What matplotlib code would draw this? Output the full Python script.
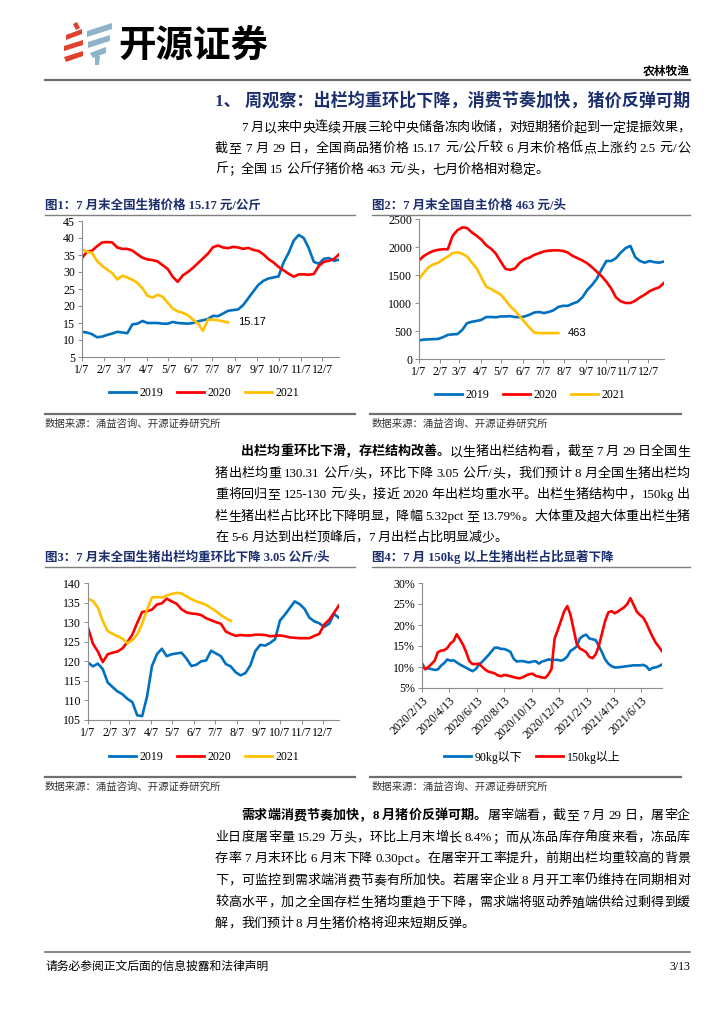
import numpy as np
import pandas as pd
import matplotlib
matplotlib.use('Agg')
import matplotlib.pyplot as plt
from matplotlib.patches import Polygon
from matplotlib.lines import Line2D

SERIF = ['Liberation Serif', 'Noto Sans CJK SC']
CJK = ['Noto Sans CJK SC', 'DejaVu Sans']
plt.rcParams['font.family'] = SERIF

# ------------------------------------------------------------------ data
month_tick_labels = ['1/7', '2/7', '3/7', '4/7', '5/7', '6/7', '7/7', '8/7', '9/7', '10/7', '11/7', '12/7']
year_labels = ['2019', '2020', '2021']

price_2019 = [12.4, 12.2, 11.7, 10.8, 11.0, 11.5, 11.9, 12.4, 12.2, 12.0, 14.6, 14.8, 15.6, 15.0, 15.0, 15.0,
              14.8, 14.8, 15.3, 15.0, 14.9, 14.8, 15.0, 15.5, 15.8, 16.2, 17.1, 17.0, 17.8, 18.6, 18.8, 19.0,
              20.3, 22.3, 24.3, 26.2, 27.4, 28.1, 28.4, 28.7, 32.8, 35.6, 39.2, 40.9, 40.0, 37.0, 33.0, 32.4,
              33.9, 34.1, 33.3, 33.6]
price_2020 = [34.1, 36.0, 36.3, 37.6, 38.7, 38.8, 38.7, 37.2, 36.8, 36.8, 36.3, 35.2, 34.2, 33.7, 33.5, 33.1,
              32.0, 30.9, 28.6, 27.1, 29.0, 30.0, 31.2, 32.6, 34.0, 35.4, 37.3, 37.8, 37.2, 37.0, 37.4, 37.2,
              36.8, 37.1, 36.5, 36.2, 35.2, 33.8, 32.8, 31.5, 30.5, 29.5, 28.6, 29.3, 29.3, 29.2, 29.4, 31.8,
              33.0, 33.3, 33.8, 35.2]
price_2021 = [36.6, 36.0, 35.6, 33.2, 31.8, 30.7, 29.7, 27.8, 28.9, 28.4, 27.7, 26.8, 25.2, 23.0, 22.5, 23.3,
              22.7, 21.0, 19.3, 18.4, 18.0, 17.3, 16.0, 14.9, 12.7, 16.0, 16.0, 15.8, 15.5, 15.17]

piglet_2019 = [334, 346, 350, 355, 358, 390, 430, 440, 445, 520, 640, 665, 680, 700, 750, 750, 745, 760, 760,
               765, 750, 745, 760, 790, 830, 840, 820, 840, 870, 930, 950, 950, 990, 1020, 1100, 1230, 1320,
               1430, 1600, 1750, 1750, 1800, 1900, 1980, 2020, 1820, 1750, 1720, 1750, 1730, 1720, 1740]
piglet_2020 = [1760, 1840, 1890, 1930, 1950, 1960, 1960, 2200, 2300, 2350, 2340, 2260, 2200, 2130, 2030, 1970,
               1880, 1740, 1610, 1590, 1620, 1720, 1780, 1810, 1860, 1890, 1920, 1935, 1940, 1940, 1930, 1900,
               1840, 1800, 1760, 1710, 1640, 1560, 1480, 1380, 1260, 1100, 1030, 1000, 1000, 1040, 1100, 1150,
               1210, 1250, 1280, 1360]
piglet_2021 = [1430, 1540, 1640, 1690, 1720, 1780, 1830, 1890, 1905, 1880, 1830, 1720, 1620, 1450, 1290, 1250,
               1200, 1150, 1050, 940, 860, 760, 660, 560, 470, 463, 463, 463, 463, 463]

weight_2019 = [119.7, 118.7, 119.4, 118.0, 114.6, 113.4, 112.3, 111.6, 110.4, 109.6, 106.2, 106.0, 111.0, 118.8,
               121.8, 123.2, 121.3, 121.8, 122.0, 122.2, 120.7, 118.8, 119.1, 120.0, 120.2, 122.7, 122.0, 121.3,
               119.3, 118.7, 117.2, 116.4, 117.0, 119.0, 122.6, 124.2, 124.0, 124.7, 125.6, 130.4, 131.9, 133.6,
               135.3, 134.6, 133.4, 131.1, 130.2, 129.7, 128.8, 129.6, 132.1, 131.1]
weight_2020 = [128.6, 124.5, 122.5, 119.8, 121.8, 122.2, 122.5, 123.3, 124.9, 126.8, 129.8, 132.6, 132.8, 133.2,
               134.5, 134.8, 136.0, 135.3, 134.7, 133.3, 132.5, 132.2, 132.1, 131.8, 131.0, 130.5, 130.0, 129.6,
               127.6, 127.0, 126.5, 126.7, 126.6, 126.6, 126.8, 126.8, 126.7, 126.4, 126.5, 126.6, 126.4, 126.1,
               126.0, 125.9, 125.9, 125.9, 126.5, 127.0, 129.4, 130.6, 132.4, 134.3]
weight_2021 = [136.0, 135.4, 133.7, 130.3, 127.7, 127.0, 126.4, 125.8, 124.6, 125.4, 126.8, 129.6, 133.2, 136.3,
               136.4, 136.3, 136.8, 137.2, 137.5, 137.3, 136.6, 135.9, 135.3, 134.9, 134.4, 133.6, 132.8, 131.8,
               131.0, 130.3]

share_start = '2020-02-13'
share_tick_labels = ['2020/2/13', '2020/4/13', '2020/6/13', '2020/8/13', '2020/10/13', '2020/12/13',
                     '2021/2/13', '2021/4/13', '2021/6/13']
share_series_labels = ['90kg以下', '150kg以上']
share_below90 = [10.9, 9.5, 9.7, 9.5, 9.3, 9.4, 10.3, 10.9, 11.8, 11.5, 11.6, 11.1, 10.6, 10.2, 9.8, 9.4, 9.0,
                 9.5, 10.5, 11.2, 12.0, 12.8, 13.7, 14.6, 14.6, 14.3, 14.3, 14.0, 13.6, 12.0, 11.3, 11.4, 11.4,
                 11.2, 11.1, 11.3, 11.4, 10.8, 11.3, 11.5, 11.8, 11.7, 11.7, 11.7, 11.5, 11.8, 12.5, 13.8, 14.3,
                 14.9, 16.8, 17.4, 17.7, 16.8, 16.6, 16.4, 15.0, 13.5, 11.8, 10.8, 10.2, 9.9, 9.9, 10.0, 10.1,
                 10.2, 10.3, 10.4, 10.4, 10.4, 10.5, 10.2, 9.3, 9.8, 9.9, 10.2, 10.6]
share_above150 = [10.4, 9.5, 10.0, 10.7, 11.5, 13.5, 13.9, 14.0, 14.5, 15.6, 16.2, 17.8, 16.6, 15.3, 13.5, 11.4,
                  10.7, 10.7, 10.8, 10.1, 9.4, 8.9, 8.7, 8.5, 8.0, 7.8, 8.1, 8.0, 7.8, 7.6, 7.4, 7.3, 7.6, 8.0,
                  8.3, 8.4, 7.9, 7.7, 7.5, 7.4, 8.2, 9.5, 16.8, 18.8, 21.0, 23.2, 24.5, 22.5, 19.0, 15.5, 14.4,
                  14.0, 13.5, 12.4, 12.1, 13.0, 15.0, 18.0, 21.0, 23.0, 23.3, 22.8, 23.2, 23.7, 24.2, 25.0, 26.4,
                  24.8, 23.2, 22.4, 21.8, 20.5, 18.8, 17.2, 15.8, 14.8, 13.8]

# ------------------------------------------------------------------ text
para1 = [
    [("7 月以来中央连续开展三轮中央储备冻肉收储，对短期猪价起到一定提振效果，", 'normal')],
    [("截至 7 月 29 日，全国商品猪价格 15.17 元/公斤较 6 月末价格低点上涨约 2.5 元/公", 'normal')],
    [("斤；全国 15 公斤仔猪价格 463 元/头，七月价格相对稳定。", 'normal')],
]
para2 = [
    [("出栏均重环比下滑，存栏结构改善。", 'bold'), ("以生猪出栏结构看，截至 7 月 29 日全国生", 'normal')],
    [("猪出栏均重 130.31 公斤/头，环比下降 3.05 公斤/头，我们预计 8 月全国生猪出栏均", 'normal')],
    [("重将回归至 125-130 元/头，接近 2020 年出栏均重水平。出栏生猪结构中，150kg 出", 'normal')],
    [("栏生猪出栏占比环比下降明显，降幅 5.32pct 至 13.79%。大体重及超大体重出栏生猪", 'normal')],
    [("在 5-6 月达到出栏顶峰后，7 月出栏占比明显减少。", 'normal')],
]
para3 = [
    [("需求端消费节奏加快，8 月猪价反弹可期。", 'bold'), ("屠宰端看，截至 7 月 29 日，屠宰企", 'normal')],
    [("业日度屠宰量 15.29 万头，环比上月末增长 8.4%；而从冻品库存角度来看，冻品库", 'normal')],
    [("存率 7 月末环比 6 月末下降 0.30pct。在屠宰开工率提升，前期出栏均重较高的背景", 'normal')],
    [("下，可监控到需求端消费节奏有所加快。若屠宰企业 8 月开工率仍维持在同期相对", 'normal')],
    [("较高水平，加之全国存栏生猪均重趋于下降，需求端将驱动养殖端供给过剩得到缓", 'normal')],
    [("解，我们预计 8 月生猪价格将迎来短期反弹。", 'normal')],
]

# ------------------------------------------------------------------ figure
W, H = 724, 1024
fig = plt.figure(figsize=(W / 100, H / 100), dpi=100)
fig.patch.set_facecolor('white')
renderer = fig.canvas.get_renderer()

BLUE, RED, YEL = '#0070C0', '#FF0000', '#FFC000'
NAVY = '#1b2f6e'
GRAY = '#7f7f7f'


def fx(x):
    return x / W


def fy(y):
    return 1 - y / H


def T(x, y, s, size=9.4, color='black', weight='normal', ha='left', va='center', family=None):
    return fig.text(fx(x), fy(y), s, fontsize=size, color=color, fontweight=weight, ha=ha, va=va,
                    family=family or SERIF)


def hline(x0, x1, y, lw=1.0, color=GRAY):
    fig.add_artist(Line2D([fx(x0), fx(x1)], [fy(y), fy(y)], transform=fig.transFigure, lw=lw, color=color))


_wcache = {}


def measure(s, wt, size):
    key = (s, wt, size)
    if key not in _wcache:
        t = fig.text(0, 0, s, fontsize=size, fontweight=wt, family=SERIF)
        _wcache[key] = t.get_window_extent(renderer=renderer).width
        t.remove()
    return _wcache[key]


def tokenize(s):
    toks, buf = [], ''
    for ch in s:
        if ord(ch) < 128 and ch != ' ':
            buf += ch
        else:
            if buf:
                toks.append(buf)
                buf = ''
            toks.append(ch)
    if buf:
        toks.append(buf)
    return toks


def text_line(segs, x0, y, x1=None, size=9.4, space=3.0):
    toks = []
    for text, wt in segs:
        for t in tokenize(text):
            toks.append((t, wt))
    widths = [space if t == ' ' else measure(t, wt, size) for t, wt in toks]
    gap = 0.0
    if x1 is not None and len(toks) > 1:
        gap = (x1 - x0 - sum(widths)) / (len(toks) - 1)
    x = x0
    for (t, wt), w in zip(toks, widths):
        if t != ' ':
            T(x, y, t, size=size, weight=wt)
        x += w + gap


def paragraph(lines, ys, indent_x=241, left=215, right=690):
    for i, (segs, y) in enumerate(zip(lines, ys)):
        x0 = indent_x if i == 0 else left
        last = (i == len(lines) - 1)
        text_line(segs, x0, y, None if last else right)


# ---------------- header
red_polys = [[(73, 24), (77, 22), (80, 28), (76, 30)],
             [(66, 35), (82, 29), (82, 34), (66, 40)],
             [(64, 46), (83, 40), (83, 45), (64, 51)],
             [(64, 57), (83, 51), (83, 56), (66, 62)]]
blue_polys = [[(87, 31), (112, 23), (112, 29), (87, 37)],
              [(88, 42), (110, 35), (110, 41), (88, 48)],
              [(90, 53), (106, 47), (106, 53), (93, 58)],
              [(95, 56), (100, 56), (99, 65), (95, 65)]]
for p in red_polys:
    fig.add_artist(Polygon([(fx(a), fy(b)) for a, b in p], closed=True, transform=fig.transFigure,
                           facecolor='#e0412e', edgecolor='none'))
for p in blue_polys:
    fig.add_artist(Polygon([(fx(a), fy(b)) for a, b in p], closed=True, transform=fig.transFigure,
                           facecolor='#8fb3c8', edgecolor='none'))
T(118, 45, '开源证券', size=27, weight='heavy', family=CJK)
T(690, 71, '农林牧渔', size=8.5, weight='bold', ha='right', family=CJK)
hline(45, 690, 80, lw=1.6, color='#6f6f6f')
T(690, 101, '1、 周观察：出栏均重环比下降，消费节奏加快，猪价反弹可期', size=12.3, weight='bold',
  color=NAVY, ha='right')

paragraph(para1, [128, 149, 170])

# ---------------- figure titles / separators / sources
T(45, 206, '图1：7 月末全国生猪价格 15.17 元/公斤', size=9, weight='bold', color=NAVY)
T(372, 206, '图2：7 月末全国自主价格 463 元/头', size=9, weight='bold', color=NAVY)
hline(45, 355, 215, lw=1.0)
hline(372, 690, 215, lw=1.0)
hline(45, 355, 414, lw=1.6, color='#6f6f6f')
hline(370, 681, 414, lw=1.6, color='#6f6f6f')
T(45, 424, '数据来源：涌益咨询、开源证券研究所', size=7.5, color='#333333')
T(372, 424, '数据来源：涌益咨询、开源证券研究所', size=7.5, color='#333333')

paragraph(para2, [452, 474, 495, 517, 538])

T(45, 557, '图3：7 月末全国生猪出栏均重环比下降 3.05 公斤/头', size=9, weight='bold', color=NAVY)
T(372, 557, '图4：7 月 150kg 以上生猪出栏占比显著下降', size=9, weight='bold', color=NAVY)
hline(45, 355, 567, lw=1.0)
hline(372, 690, 567, lw=1.0)
hline(45, 355, 777, lw=1.6, color='#6f6f6f')
hline(370, 681, 777, lw=1.6, color='#6f6f6f')
T(45, 787, '数据来源：涌益咨询、开源证券研究所', size=7.5, color='#333333')
T(372, 787, '数据来源：涌益咨询、开源证券研究所', size=7.5, color='#333333')

paragraph(para3, [816, 838, 859, 881, 903, 924])

hline(45, 690, 952, lw=1.2, color='#6f6f6f')
T(45, 967, '请务必参阅正文后面的信息披露和法律声明', size=8.5)
T(690, 967, '3/13', size=8.5, ha='right')


# ---------------- charts
def ax_px(l, t, r, b):
    return fig.add_axes([l / W, 1 - b / H, (r - l) / W, (b - t) / H])


def style(ax, size=8.6):
    for s in ['top', 'right']:
        ax.spines[s].set_visible(False)
    for s in ['left', 'bottom']:
        ax.spines[s].set_color('#8c8c8c')
        ax.spines[s].set_linewidth(0.8)
    ax.tick_params(axis='both', direction='out', length=3, width=0.7, color='#8c8c8c',
                   labelsize=size, pad=2)
    ax.set_facecolor('none')
    for lab in ax.get_xticklabels() + ax.get_yticklabels():
        lab.set_family(SERIF)


def legend(ax, labels, colors, cx, cy):
    handles = [Line2D([], [], color=c, lw=2.0) for c in colors]
    ax.legend(handles, labels, loc='center', bbox_to_anchor=(fx(cx), fy(cy)), bbox_transform=fig.transFigure,
              ncol=len(labels), frameon=False, prop={'family': SERIF, 'size': 8.6}, handlelength=2.3,
              handletextpad=0.3, columnspacing=1.1)


base = pd.Timestamp('2019-01-07')
month_pos = [(pd.Timestamp(2019, m, 7) - base).days for m in range(1, 13)]


def year_chart(rect, series, ylim, yticks, note=None):
    ax = ax_px(*rect)
    for vals, c in zip(series, [BLUE, RED, YEL]):
        x = np.arange(len(vals)) * 7
        ax.plot(x, vals, color=c, lw=1.9, solid_joinstyle='round')
    ax.set_xlim(0, 51 * 7)
    ax.set_ylim(*ylim)
    ax.set_xticks(month_pos)
    ax.set_xticklabels(month_tick_labels)
    ax.set_yticks(yticks)
    style(ax)
    if note is not None:
        vals = series[2]
        xl = (len(vals) - 1) * 7
        ax.text(xl + 14, vals[-1], note, fontsize=8, family='Liberation Sans', va='center', ha='left')
    return ax


ax1 = year_chart((82, 221, 339, 357), [price_2019, price_2020, price_2021], (5, 45), range(5, 46, 5),
                 note='15.17')
legend(ax1, year_labels, [BLUE, RED, YEL], 204, 393)

ax2 = year_chart((419, 219, 664, 359), [piglet_2019, piglet_2020, piglet_2021], (0, 2500), range(0, 2501, 500),
                 note='463')
legend(ax2, year_labels, [BLUE, RED, YEL], 530, 395)

ax3 = year_chart((88, 583, 339, 720), [weight_2019, weight_2020, weight_2021], (105, 140), range(105, 141, 5))
legend(ax3, year_labels, [BLUE, RED, YEL], 204, 757)

ax4 = ax_px(422, 583, 662, 688)
dates = pd.date_range(share_start, periods=len(share_below90), freq='7D')
ax4.plot(dates, share_below90, color=BLUE, lw=1.9)
ax4.plot(dates, share_above150, color=RED, lw=1.9)
ax4.set_xlim(dates[0], dates[-1])
ax4.set_ylim(5, 30)
ax4.set_yticks(range(5, 31, 5))
ax4.set_yticklabels([f'{v}%' for v in range(5, 31, 5)])
tick_dates = [pd.Timestamp(s.replace('/', '-')) for s in share_tick_labels]
ax4.set_xticks(tick_dates)
ax4.set_xticklabels(share_tick_labels, rotation=45, ha='right', rotation_mode='anchor')
style(ax4)
legend(ax4, share_series_labels, [BLUE, RED], 532, 757)

fig.savefig('out.png', dpi=100, facecolor='white')
